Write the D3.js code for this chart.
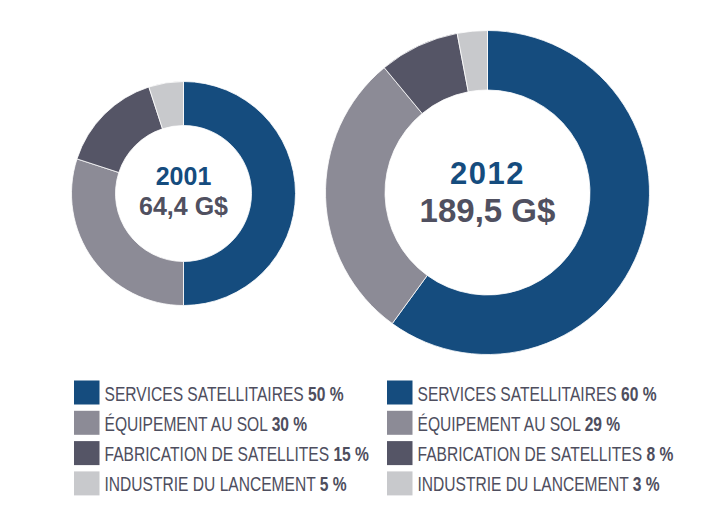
<!DOCTYPE html>
<html>
<head>
<meta charset="utf-8">
<script src="https://cdn.jsdelivr.net/npm/d3@7"></script>
<style>
  body { margin: 0; background: #fff; }
  svg { display: block; }
  text { font-family: "Liberation Sans", Arial, sans-serif; }
</style>
</head>
<body>
<svg id="chart" width="720" height="521"></svg>
<script>
const categories = ['SERVICES SATELLITAIRES', 'ÉQUIPEMENT AU SOL', 'FABRICATION DE SATELLITES', 'INDUSTRIE DU LANCEMENT'];
const colors = ['#154c7e', '#8c8b96', '#555566', '#c8c9cc'];
const years = ['2001', '2012'];
const totals = ['64,4 G$', '189,5 G$'];
const shares2001 = [50, 30, 15, 5];
const shares2012 = [60, 29, 8, 3];

const svg = d3.select('#chart');

// condensed look: no narrow font installed, so squeeze horizontally
const squeeze = 0.8;

const donuts = [
    {year: years[0], total: totals[0], values: shares2001, cx: 183.5, cy: 193.5, outer: 112, inner: 68,
     fsYear: 25, fsTotal: 25, yYear: -8.5, yTotal: 21.5, legendX: 74},
    {year: years[1], total: totals[1], values: shares2012, cx: 487.5, cy: 192.5, outer: 162, inner: 102.5,
     fsYear: 31, fsTotal: 33, yYear: -9, yTotal: 29, legendX: 387}
];

const pie = d3.pie().sort(null).value(d => d);

donuts.forEach(dn => {
    const arc = d3.arc().innerRadius(dn.inner).outerRadius(dn.outer);
    const g = svg.append('g').attr('transform', `translate(${dn.cx},${dn.cy})`);

    g.selectAll('path')
        .data(pie(dn.values))
        .join('path')
        .attr('d', arc)
        .attr('fill', (d, i) => colors[i])
        .attr('stroke', '#fff')
        .attr('stroke-width', 0.8);

    g.append('text')
        .attr('text-anchor', 'middle')
        .attr('y', dn.yYear)
        .attr('fill', '#154c7e')
        .attr('font-weight', 'bold')
        .attr('font-size', dn.fsYear)
        .attr('letter-spacing', dn.fsYear > 28 ? 1.5 : 0)
        .text(dn.year);

    g.append('text')
        .attr('text-anchor', 'middle')
        .attr('y', dn.yTotal)
        .attr('fill', '#505060')
        .attr('font-weight', 'bold')
        .attr('font-size', dn.fsTotal)
        .text(dn.total);

    // legend
    const rows = svg.append('g')
        .selectAll('g')
        .data(categories)
        .join('g')
        .attr('transform', (d, i) => `translate(${dn.legendX},${380.5 + i * 30.3})`);

    rows.append('rect')
        .attr('width', 25.5)
        .attr('height', 24)
        .attr('fill', (d, i) => colors[i]);

    const t = rows.append('text')
        .attr('transform', `translate(30.5,20) scale(${squeeze},1)`)
        .attr('font-size', 19.5)
        .attr('fill', '#4e4e5e');
    t.append('tspan').text(d => d + ' ');
    t.append('tspan')
        .attr('font-weight', 'bold')
        .text((d, i) => dn.values[i] + ' %');
});
</script>
</body>
</html>
